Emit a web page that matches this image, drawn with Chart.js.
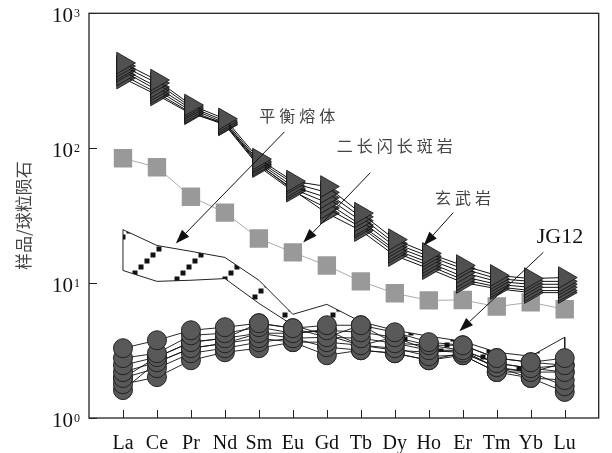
<!DOCTYPE html>
<html>
<head>
<meta charset="utf-8">
<script src="https://cdn.jsdelivr.net/npm/chart.js@4.4.1/dist/chart.umd.min.js"></script>
<style>
html, body { margin: 0; padding: 0; background: #fff; }
#wrap { width: 612px; height: 453px; }
</style>
</head>
<body>
<div id="wrap"><canvas id="myChart" width="612" height="453"></canvas></div>
<script>
const elements = ['La', 'Ce', 'Pr', 'Nd', 'Sm', 'Eu', 'Gd', 'Tb', 'Dy', 'Ho', 'Er', 'Tm', 'Yb', 'Lu'];

// 玄武岩
const basalt1 = [428, 320, 209, 165, 83, 57, 52, 33, 21, 16.6, 13.5, 11.4, 10.8, 11.0];
const basalt2 = [406, 304, 202, 159, 80, 55, 47, 31, 19.7, 15.8, 12.8, 10.8, 10.3, 10.3];
const basalt3 = [386, 284, 196, 154, 78, 52, 43, 29, 18.7, 15.0, 12.0, 10.3, 9.8, 9.8];
const basalt4 = [373, 270, 189, 150, 75, 50, 39.5, 27, 17.7, 14.2, 11.2, 9.8, 9.3, 9.3];
const basalt5 = [349, 257, 183, 149, 73, 48, 36, 26, 16.9, 13.5, 10.6, 9.4, 8.8, 8.8];
const basalt6 = [331, 248, 180, 154, 76, 49, 33, 24.5, 16, 12.8, 10.1, 9.1, 8.5, 8.5];

// 二长闪长斑岩
const porphyry = [84.2, 72.3, 43.7, 33.3, 21.4, 16.9, 13.5, 10.3, 8.4, 7.45, 7.5, 6.7, 7.2, 6.4];

// JG12
const jg1 = [3.29, 3.77, 4.47, 4.71, 5.04, 4.63, 4.87, 4.87, 4.32, 3.65, 3.46, 2.78, 2.59, 2.78];
const jg2 = [2.78, 3.02, 4.1, 4.25, 4.71, 4.25, 4.47, 4.32, 3.97, 3.46, 3.18, 2.55, 2.34, 2.46];
const jg3 = [2.46, 2.83, 3.65, 3.9, 4.25, 3.9, 3.97, 3.9, 3.58, 3.18, 3.05, 2.38, 2.19, 2.19];
const jg4 = [2.19, 2.59, 3.29, 3.58, 3.9, 3.65, 3.65, 3.46, 3.29, 2.87, 2.92, 2.19, 1.98, 1.91];
const jg5 = [1.98, 2.34, 3.02, 3.29, 3.65, 3.9, 3.35, 3.18, 3.02, 2.68, 2.92, 2.19, 2.19, 1.72];
const jg6 = [1.78, 2.01, 2.68, 3.07, 3.29, 3.65, 2.92, 3.18, 3.02, 2.68, 3.05, 2.38, 1.98, 1.56];
const jg7 = [1.61, 2.59, 3.29, 3.58, 4.25, 4.25, 4.47, 3.46, 3.97, 3.18, 3.18, 2.55, 2.34, 2.19];
const jg8 = [1.98, 2.83, 3.65, 3.9, 5.04, 4.63, 3.97, 4.87, 3.58, 3.46, 3.46, 2.78, 2.59, 2.46];

// 平衡熔体 field
const meltUpper = [24.9, 19.0, 17.2, 15.5, 10.5, 5.87, 6.96, 5.17, 4.47, 4.04, 3.7, 3.07, 2.87, 3.97];
const meltLower = [12.4, 10.3, 10.5, 10.8, 7.08, 4.87, 4.1, 3.46, 3.18, 3.07, 3.18, 2.34, 2.19, 2.55];

const yTicks = [1, 10, 100, 1000];
const yTickExp = ['0', '1', '2', '3'];

// labels with arrows: text position, arrow start, arrow tip (category index, value)
const notes = [
    { text: '平衡熔体', at: [5.13, 174], from: [4.75, 132], to: [1.555, 19.7], cjk: true },
    { text: '二长闪长斑岩', at: [8.0, 104], from: [7.28, 65.8], to: [5.305, 20.0], cjk: true },
    { text: '玄武岩', at: [10.01, 43], from: [9.72, 33.3], to: [8.85, 19.0], cjk: true },
    { text: 'JG12', at: [12.86, 21.8], from: [12.37, 16.9], to: [9.9, 4.4], cjk: false }
];

const pts = arr => arr.map((v, i) => ({ x: i, y: v }));

// hatch of small black squares for the melt field
const tile = document.createElement('canvas');
tile.width = 48; tile.height = 48;
const tctx = tile.getContext('2d');
tctx.fillStyle = '#111';
for (let cx = 3; cx < 48; cx += 6) {
    const cy = ((24 - cx) % 48 + 48) % 48;
    tctx.fillRect(cx - 2.5, cy - 2.5, 5, 5);
}

const ctx = document.getElementById('myChart').getContext('2d');
const hatch = ctx.createPattern(tile, 'repeat');

const triStyle = {
    borderColor: '#111', borderWidth: 1,
    pointStyle: 'triangle', pointRotation: 90, pointRadius: 12.5,
    pointBackgroundColor: '#505050', pointBorderColor: '#111', pointBorderWidth: 0.8,
    order: 1
};
const circStyle = {
    borderColor: '#111', borderWidth: 0.9,
    pointStyle: 'circle', pointRadius: 9.5,
    pointBackgroundColor: '#595959', pointBorderColor: '#222', pointBorderWidth: 1,
    order: 3
};

const datasets = [
    ...[basalt1, basalt2, basalt3, basalt4, basalt5, basalt6].map(d => ({ data: pts(d), ...triStyle })),
    {
        data: pts(porphyry), borderColor: '#aaa', borderWidth: 1,
        pointStyle: 'rect', pointRadius: 13,
        pointBackgroundColor: '#999', pointBorderColor: '#999', pointBorderWidth: 0,
        order: 2
    },
    ...[jg1, jg2, jg3, jg4, jg5, jg6, jg7, jg8].map(d => ({ data: pts(d), ...circStyle })),
    {
        data: [{ x: 0, y: meltLower[0] }, ...pts(meltUpper), { x: elements.length - 1, y: meltLower[elements.length - 1] }],
        borderColor: '#222', borderWidth: 1, pointRadius: 0,
        fill: '+1', backgroundColor: hatch, order: 4
    },
    { data: pts(meltLower), borderColor: '#222', borderWidth: 1, pointRadius: 0, fill: false, order: 4 }
];

const frame = {
    id: 'frame',
    afterDraw(chart) {
        const { ctx, chartArea: a, scales: { x, y } } = chart;
        ctx.save();
        ctx.strokeStyle = '#222';
        ctx.lineWidth = 1.3;
        ctx.strokeRect(a.left, a.top, a.right - a.left, a.bottom - a.top);
        ctx.lineWidth = 1;
        ctx.beginPath();
        elements.forEach((_, i) => {
            const px = Math.round(x.getPixelForValue(i)) + 0.5;
            ctx.moveTo(px, a.bottom);
            ctx.lineTo(px, a.bottom - 8);
        });
        yTicks.forEach(v => {
            const py = Math.round(y.getPixelForValue(v)) + 0.5;
            ctx.moveTo(a.left, py);
            ctx.lineTo(a.left + 8, py);
        });
        ctx.stroke();
        ctx.fillStyle = '#111';
        ctx.textBaseline = 'alphabetic';
        yTicks.forEach((v, i) => {
            const py = y.getPixelForValue(v);
            ctx.font = '21px "Liberation Serif"';
            ctx.textAlign = 'right';
            ctx.fillText('10', a.left - 16, py + 9);
            ctx.font = '12px "Liberation Serif"';
            ctx.textAlign = 'left';
            ctx.fillText(yTickExp[i], a.left - 15, py + 4);
        });
        ctx.restore();
    }
};

const arrows = {
    id: 'arrows',
    afterDatasetsDraw(chart) {
        const { ctx, scales: { x, y } } = chart;
        const p = ([i, v]) => [x.getPixelForValue(i), y.getPixelForValue(v)];
        ctx.save();
        notes.forEach(n => {
            const [tx, ty] = p(n.at);
            const [fx, fy] = p(n.from);
            const [ex, ey] = p(n.to);
            ctx.textAlign = 'center';
            ctx.textBaseline = 'middle';
            if (n.cjk) {
                ctx.font = '16px "Noto Sans CJK SC"';
                ctx.fillStyle = '#444';
                ctx.letterSpacing = '4px';
                ctx.fillText(n.text, tx + 2, ty);
            } else {
                ctx.font = '22px "Liberation Serif"';
                ctx.fillStyle = '#111';
                ctx.letterSpacing = '0px';
                ctx.fillText(n.text, tx, ty);
            }
            ctx.letterSpacing = '0px';
            const ang = Math.atan2(ey - fy, ex - fx);
            const len = 14, half = 5;
            const bx = ex - Math.cos(ang) * len, by = ey - Math.sin(ang) * len;
            ctx.strokeStyle = '#111';
            ctx.lineWidth = 1;
            ctx.beginPath();
            ctx.moveTo(fx, fy);
            ctx.lineTo(bx, by);
            ctx.stroke();
            ctx.fillStyle = '#111';
            ctx.beginPath();
            ctx.moveTo(ex, ey);
            ctx.lineTo(bx - Math.sin(ang) * half, by + Math.cos(ang) * half);
            ctx.lineTo(bx + Math.sin(ang) * half, by - Math.cos(ang) * half);
            ctx.closePath();
            ctx.fill();
        });
        ctx.restore();
    }
};

new Chart(ctx, {
    type: 'line',
    data: { datasets },
    options: {
        responsive: false,
        animation: false,
        devicePixelRatio: 1,
        layout: { padding: { top: 12, right: 8, left: 0, bottom: 0 } },
        plugins: { legend: { display: false }, tooltip: { enabled: false } },
        elements: { line: { tension: 0 } },
        scales: {
            x: {
                type: 'linear', min: -1, max: 14,
                afterBuildTicks: s => { s.ticks = elements.map((_, i) => ({ value: i })); },
                afterFit: s => { s.height = 35; },
                grid: { display: false },
                border: { display: false },
                ticks: {
                    callback: v => elements[v],
                    font: { family: 'Liberation Serif', size: 20 },
                    color: '#111', padding: 6, maxRotation: 0, autoSkip: false
                }
            },
            y: {
                type: 'logarithmic', min: 1, max: 1000,
                afterBuildTicks: s => { s.ticks = yTicks.map(v => ({ value: v })); },
                afterFit: s => { s.width = 89; },
                grid: { display: false },
                border: { display: false },
                ticks: { display: false },
                title: {
                    display: true, text: '样品/球粒陨石',
                    font: { family: 'Noto Sans CJK SC', size: 17 },
                    color: '#444', padding: { top: 13, bottom: 0 }
                }
            }
        }
    },
    plugins: [frame, arrows]
});
</script>
</body>
</html>
